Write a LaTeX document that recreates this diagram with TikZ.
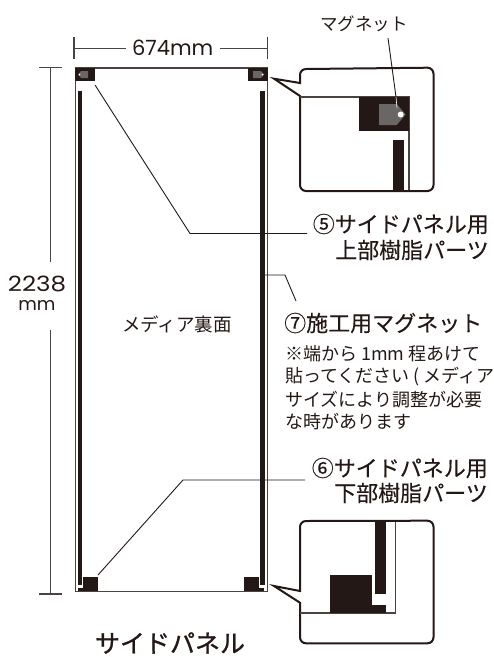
\documentclass[tikz,border=0pt]{standalone}
\usepackage{fontspec}
\setmainfont{Noto Sans CJK JP}
\newfontfamily\latinf{Poppins}
\definecolor{ink}{HTML}{231815}
\definecolor{thin}{HTML}{4A4340}
\definecolor{magnetg}{HTML}{6A6665}
\tikzset{
 lbl/.style={inner sep=0pt,text=ink,font=\fontsize{22}{22}\selectfont\addfontfeature{FakeBold=0.25}},
 note/.style={inner sep=0pt,text=ink,anchor=west,font=\fontsize{18}{18}\selectfont},
 dimtxt/.style={inner sep=0pt,text=ink,font=\latinf\fontsize{21}{21}\selectfont},
 leader/.style={draw=ink,line width=0.9pt},
 dimline/.style={draw=thin,line width=1.2pt},
 callout/.style={draw=ink,line width=2pt,fill=white,line join=miter},
 edge thin/.style={draw=thin,line width=1.1pt},
}
\begin{document}
\begin{tikzpicture}[x=1pt,y=-1pt]
\useasboundingbox (0,0) rectangle (494,657);
% panel
\draw[edge thin] (75.5,68) rectangle (267.5,591.5);
\draw[edge thin,line width=1.6pt] (75,68) -- (268,68) (75,591.5) -- (268,591.5);
% top corners
\fill[ink] (75,68) rectangle (95,81);
\fill[ink] (248,68) rectangle (267.5,81);
\fill[magnetg] (88,71) -- (81,71) -- (78.3,74.5) -- (81,78) -- (88,78) -- cycle;
\fill[magnetg] (253,71) -- (261,71) -- (264,74.5) -- (261,78) -- (253,78) -- cycle;
\fill[white] (79.5,74.5) circle (1);
\fill[white] (262.5,74.5) circle (1);
% bars
\fill[ink] (78,91) rectangle (82.2,585);
\fill[ink] (260,91) rectangle (264.6,585);
% bottom corners
\fill[ink] (82.7,577) rectangle (98.3,591);
\fill[ink] (78,588) rectangle (83,591);
\fill[ink] (243.7,577) rectangle (259,591);
\fill[ink] (259,588) rectangle (264,591);
% width dimension
\node[dimtxt] (w) at (172.7,48) {674mm};
\coordinate (wl) at (74,48.7);
\coordinate (wr) at (267.7,48.7);
\draw[dimline] (74,37) -- (74,59) (267.7,37) -- (267.7,59);
\draw[dimline] (wl) -- (126,48.7) (220,48.7) -- (wr);
% height dimension
\node[dimtxt,xscale=1.17] (h1) at (37,284) {2238};
\node[dimtxt,font=\latinf\fontsize{18}{18}\selectfont] (h2) at (37,305) {mm};
\coordinate (ht) at (50.7,67.7);
\coordinate (hb) at (50.7,594);
\draw[dimline] (39,67.7) -- (62,67.7) (39,594) -- (62,594);
\draw[dimline] (ht) -- (50.7,262) (50.7,330) -- (hb);
% centre text
\node[inner sep=0pt,text=ink,font=\fontsize{18.5}{18.5}\selectfont] (media) at (177,324) {メディア裏面};
% labels
\node[lbl,anchor=east] (l5a) at (489,224) {⑤サイドパネル用};
\node[lbl,anchor=east] (l5b) at (489,250) {上部樹脂パーツ};
\node[lbl,anchor=west] (l7) at (284,323) {⑦施工用マグネット};
\node[note] (n1) at (285,354) {※端から 1mm 程あけて};
\node[note] (n2) at (285,377) {貼ってください ( メディア};
\node[note] (n3) at (285,400) {サイズにより調整が必要};
\node[note] (n4) at (285,422) {な時があります};
\node[lbl,anchor=east] (l6a) at (488,468) {⑥サイドパネル用};
\node[lbl,anchor=east] (l6b) at (488,493) {下部樹脂パーツ};
\node[inner sep=0pt,text=ink,font=\fontsize{25}{25}\selectfont] (title) at (170,643) {\addfontfeature{FakeBold=1}サイドパネル};
% leaders
\coordinate (a5) at (95,85); \coordinate (b5) at (190,233.5); \coordinate (c5) at (307,233.5);
\draw[leader] (a5) -- (b5) -- (c5);
\coordinate (a7) at (264,275); \coordinate (b7) at (285,275); \coordinate (c7) at (296,301);
\draw[leader] (a7) -- (b7) -- (c7);
\coordinate (a6) at (98,575); \coordinate (b6) at (183,480); \coordinate (c6) at (305,480);
\draw[leader] (a6) -- (b6) -- (c6);
% top callout
\draw[callout] (300,80) -- (300,75) arc[start angle=180,end angle=270,radius=6] -- (427.5,67.7) arc[start angle=270,end angle=360,radius=6] -- (433.5,185) arc[start angle=0,end angle=90,radius=6] -- (306,191) arc[start angle=90,end angle=180,radius=6] -- (300,96) -- (274,78.7) -- (300,83) -- cycle;
\draw[edge thin] (300,97) -- (409,97) -- (409,190);
\fill[ink] (359,97) rectangle (409,130.7);
\fill[magnetg] (379,104) -- (396.7,104) -- (405.7,114.5) -- (396.7,125) -- (379,125) -- cycle;
\fill[white] (400.7,114.5) circle (3);
\fill[ink] (393,140) rectangle (404,190);
\node[inner sep=0pt,text=ink,font=\fontsize{17.5}{17.5}\selectfont] (mag) at (364,24) {マグネット};
\coordinate (ma) at (388,38); \coordinate (mb) at (396,97); \coordinate (mc) at (397,108);
\draw[leader] (ma) -- (mb);
\draw[white,line width=0.6pt] (mb) -- (mc);
% bottom callout
\draw[callout] (300,591) -- (300,527) arc[start angle=180,end angle=270,radius=6] -- (427.5,520.7) arc[start angle=270,end angle=360,radius=6] -- (433.5,637.3) arc[start angle=0,end angle=90,radius=6] -- (306,643.3) arc[start angle=90,end angle=180,radius=6] -- (300,602.7) -- (274,586) -- cycle;
\draw[edge thin] (300,613) -- (395.7,613) -- (395.7,522);
\fill[ink] (330,574.7) rectangle (372,613);
\fill[ink] (372,605.3) rectangle (386.3,613);
\fill[ink] (375,521) rectangle (386.3,594);
\end{tikzpicture}
\end{document}
